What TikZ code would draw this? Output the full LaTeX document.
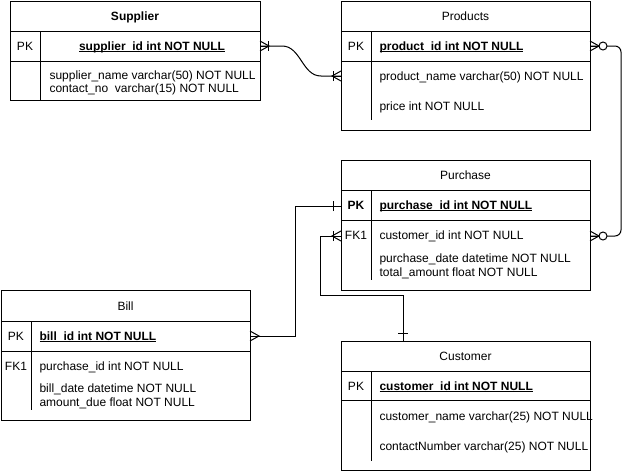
\documentclass[tikz,border=0pt]{standalone}
\usepackage{fontspec}
\setmainfont{Liberation Sans}
\newsavebox\ulbox
\newcommand\myul[1]{\sbox\ulbox{#1}\rlap{\rule[-2.2pt]{\wd\ulbox}{0.9pt}}\usebox\ulbox}
\begin{document}
\begin{tikzpicture}[x=1pt,y=-1pt, line width=1pt,
  tbl/.style={draw, anchor=north west, inner sep=0pt, outer sep=0pt},
  txt/.style={anchor=base west, inner sep=0pt, font=\fontsize{12}{14}\selectfont},
  ctr/.style={anchor=base, inner sep=0pt, font=\fontsize{12}{14}\selectfont},
  crow/.pic={\draw (0,-5) -- (9,0) -- (0,5); \draw (0,0) -- (9,0);},
  onebar/.pic={\draw (8,-5) -- (8,5);},
  zerocirc/.pic={\draw[fill=white] (13,0) circle (4);},
]
\useasboundingbox (0,0) rectangle (630,471);

% ---------- Supplier ----------
\node[tbl, minimum width=250pt, minimum height=99pt] (sup) at (10,1) {};
\draw (10,31) -- (260,31);
\draw (10,61) -- (260,61);
\draw (40,31) -- (40,100);
\node[ctr] (supH) at (135,20) {\textbf{Supplier}};
\node[ctr] (supPKl) at (25,50) {PK};
\node[ctr] (supPKf) at (152,50) {\myul{\textbf{supplier\_id int NOT NULL}}};
\node[txt] (supF1) at (49,79) {supplier\_name varchar(50) NOT NULL};
\node[txt] (supF2) at (49,92) {contact\_no~ varchar(15) NOT NULL};

% ---------- Products ----------
\node[tbl, minimum width=249pt, minimum height=129pt] (prod) at (341,1) {};
\draw (341,31) -- (590,31);
\draw (341,61) -- (590,61);
\draw (371,31) -- (371,120);
\node[ctr] (prodH) at (465.5,20) {Products};
\node[ctr] (prodPKl) at (356,50) {PK};
\node[txt] (prodPKf) at (379,50) {\myul{\textbf{product\_id int NOT NULL}}};
\node[txt] (prodF1) at (379,80) {product\_name varchar(50) NOT NULL};
\node[txt] (prodF2) at (379,110) {price int NOT NULL};

% ---------- Purchase ----------
\node[tbl, minimum width=249pt, minimum height=130pt] (pur) at (341,160) {};
\draw (341,190) -- (590,190);
\draw (341,220) -- (590,220);
\draw (371,190) -- (371,280);
\node[ctr] (purH) at (465.5,179) {Purchase};
\node[ctr] (purPKl) at (356,209) {\textbf{PK}};
\node[txt] (purPKf) at (379,209) {\myul{\textbf{purchase\_id int NOT NULL}}};
\node[ctr] (purFKl) at (356,239) {FK1};
\node[txt] (purF1) at (379,239) {customer\_id int NOT NULL};
\node[txt] (purF2) at (379,262) {purchase\_date datetime NOT NULL};
\node[txt] (purF3) at (379,276) {total\_amount float NOT NULL};

% ---------- Bill ----------
\node[tbl, minimum width=249pt, minimum height=130pt] (bill) at (1,290) {};
\draw (1,321) -- (250,321);
\draw (1,351) -- (250,351);
\draw (31,321) -- (31,410);
\node[ctr] (billH) at (125.5,310) {Bill};
\node[ctr] (billPKl) at (16,340) {PK};
\node[txt] (billPKf) at (39,340) {\myul{\textbf{bill\_id int NOT NULL}}};
\node[ctr] (billFKl) at (16,370) {FK1};
\node[txt] (billF1) at (39,370) {purchase\_id int NOT NULL};
\node[txt] (billF2) at (39,392) {bill\_date datetime NOT NULL};
\node[txt] (billF3) at (39,406) {amount\_due float NOT NULL};

% ---------- Customer ----------
\node[tbl, minimum width=249pt, minimum height=129pt] (cust) at (341,341) {};
\draw (341,371) -- (590,371);
\draw (341,400) -- (590,400);
\draw (371,371) -- (371,461);
\node[ctr] (custH) at (465.5,360) {Customer};
\node[ctr] (custPKl) at (356,390) {PK};
\node[txt] (custPKf) at (379,390) {\myul{\textbf{customer\_id int NOT NULL}}};
\node[txt] (custF1) at (379,420) {customer\_name varchar(25) NOT NULL};
\node[txt] (custF2) at (379,450) {contactNumber varchar(25) NOT NULL};

% ---------- connector end points ----------
\coordinate (supPK) at (260,46);
\coordinate (prodF) at (341,76);
\coordinate (prodPK) at (590,46);
\coordinate (purFKr) at (590,236);
\coordinate (billPK) at (250,336);
\coordinate (purPK) at (341,206);
\coordinate (purFKl) at (341,236);
\coordinate (custTop) at (403,341);

% Supplier -- Products
\draw (supPK) -- (282,46) .. controls (301,46) and (302,76) .. (321,76) -- (prodF);
\pic at (supPK) {crow}; \pic at (supPK) {onebar};
\pic[rotate=180] at (prodF) {crow}; \pic[rotate=180] at (prodF) {onebar};

% Products -- Purchase
\draw[rounded corners=6pt] (prodPK) -- (621,46) -- (621,236) -- (purFKr);
\pic at (prodPK) {crow}; \pic at (prodPK) {zerocirc};
\pic at (purFKr) {crow}; \pic at (purFKr) {zerocirc};

% Bill -- Purchase
\draw (billPK) -- (295,336) -- (295,206) -- (purPK);
\pic at (billPK) {crow};
\pic[rotate=180] at (purPK) {onebar};

% Purchase -- Customer
\draw (purFKl) -- (320,236) -- (320,295) -- (403,295) -- (custTop);
\pic[rotate=180] at (purFKl) {crow}; \pic[rotate=180] at (purFKl) {onebar};
\pic[rotate=90] at (custTop) {onebar};
\end{tikzpicture}
\end{document}
